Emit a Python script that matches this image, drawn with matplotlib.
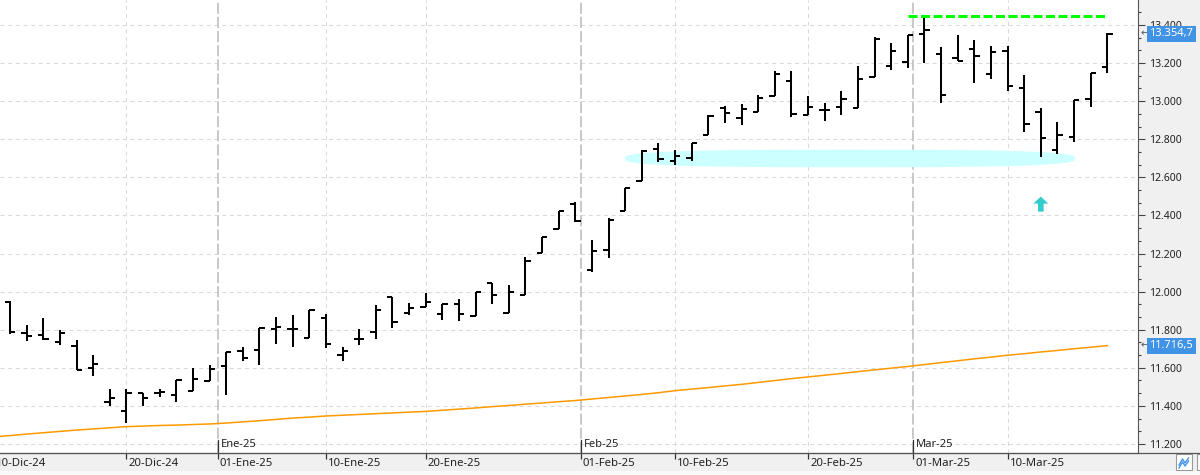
import numpy as np
import pandas as pd
import matplotlib
matplotlib.use("Agg")
import matplotlib.pyplot as plt
from matplotlib.ticker import MultipleLocator, FixedLocator, FuncFormatter
from matplotlib.patches import Rectangle, FancyArrow

plt.rcParams['font.family'] = ['Noto Sans', 'DejaVu Sans']
plt.rcParams['lines.scale_dashes'] = False

# trading sessions shown (market closed 25-Dic, 26-Dic, 01-Ene)
dates = [d for d in pd.bdate_range('2024-12-10', '2025-03-18')
         if d.strftime('%m-%d') not in ('12-25', '12-26', '01-01')]

# daily bars from 11-Dic-24 (the 10-Dic bar is cut off at the left edge)
opens = [11947, 11781, 11770, 11737, 11716, 11600, 11421, 11372, 11467, 11467,
         11455, 11479, 11532, 11611, 11690, 11696, 11802, 11802, 11758, 11863,
         11665, 11749, 11790, 11974, 11886, 11921, 11884, 11937, 11872, 12044,
         11889, 11982, 12205, 12331, 12458, 12116, 12219, 12424, 12579, 12747,
         12685, 12700, 12821, 12965, 12911, 12942, 13028, 13107, 12928, 12954,
         12970, 12965, 13128, 13186, 13207, 13352, 13247, 13229, 13272, 13140,
         13261, 13067, 12941, 12741, 12811, 13009, 13177]
highs = [11950, 11823, 11860, 11796, 11744, 11669, 11486, 11491, 11469, 11486,
         11535, 11600, 11616, 11682, 11707, 11810, 11868, 11875, 11903, 11884,
         11711, 11802, 11928, 11974, 11942, 11995, 11937, 11963, 12000, 12047,
         12035, 12184, 12289, 12422, 12472, 12270, 12389, 12542, 12745, 12779,
         12742, 12781, 12926, 12975, 12986, 13033, 13160, 13160, 13028, 12991,
         13055, 13184, 13339, 13307, 13349, 13447, 13282, 13346, 13320, 13289,
         13289, 13135, 12962, 12893, 13007, 13147, 13356]
lows = [11775, 11739, 11745, 11719, 11590, 11556, 11398, 11309, 11398, 11448,
        11419, 11477, 11530, 11456, 11638, 11613, 11726, 11708, 11758, 11705,
        11635, 11721, 11753, 11807, 11875, 11918, 11851, 11845, 11872, 11937,
        11889, 11982, 12205, 12331, 12363, 12103, 12179, 12424, 12579, 12679,
        12665, 12684, 12821, 12885, 12876, 12942, 13028, 12918, 12928, 12897,
        12926, 12965, 13128, 13165, 13176, 13200, 12991, 13210, 13096, 13114,
        13051, 12839, 12708, 12723, 12786, 12970, 13149]
closes = [11788, 11765, 11753, 11781, 11590, 11621, 11442, 11467, 11439, 11475,
          11535, 11539, 11595, 11682, 11653, 11810, 11816, 11802, 11903, 11723,
          11690, 11753, 11902, 11842, 11916, 11947, 11933, 11884, 12000, 11984,
          12000, 12159, 12289, 12422, 12373, 12212, 12375, 12542, 12738, 12694,
          12711, 12781, 12920, 12938, 12958, 13016, 13144, 12933, 12970, 12954,
          13012, 13115, 13328, 13265, 13349, 13372, 13030, 13212, 13236, 13257,
          13082, 12879, 12807, 12822, 13007, 13147, 13354.7]

# moving average (orange), from 10-Dic-24
ma200 = [11237, 11244, 11252, 11259, 11266, 11273, 11279, 11285, 11291, 11294,
         11297, 11299, 11302, 11305, 11310, 11316, 11322, 11329, 11336, 11341,
         11347, 11351, 11355, 11359, 11363, 11367, 11371, 11377, 11383, 11389,
         11396, 11402, 11409, 11415, 11422, 11428, 11436, 11444, 11452, 11460,
         11469, 11480, 11488, 11496, 11505, 11513, 11523, 11533, 11543, 11552,
         11561, 11570, 11580, 11589, 11598, 11607, 11617, 11627, 11637, 11647,
         11656, 11666, 11674, 11683, 11691, 11700, 11708, 11716.5]

date_ticks = ['2024-12-10', '2024-12-20', '2025-01-01', '2025-01-10', '2025-01-20',
              '2025-02-01', '2025-02-10', '2025-02-20', '2025-03-01', '2025-03-10']
date_labels = ['10-Dic-24', '20-Dic-24', '01-Ene-25', '10-Ene-25', '20-Ene-25',
               '01-Feb-25', '10-Feb-25', '20-Feb-25', '01-Mar-25', '10-Mar-25']
month_ticks = ['2025-01-01', '2025-02-01', '2025-03-01']
month_labels = ['Ene-25', 'Feb-25', 'Mar-25']
price_ticks = [11200, 11400, 11600, 11800, 12000, 12200, 12400, 12600, 12800,
               13000, 13200, 13400]

# support zone (cyan band) and up arrow
zone_start, zone_end, zone_level = '2025-02-06', '2025-03-14', 12699
arrow_date, arrow_base, arrow_top = '2025-03-12', 12420, 12499
resist_start = '2025-02-28'

day_num = np.array([d.toordinal() for d in dates])


def pos(s):
    return np.interp(pd.Timestamp(s).toordinal(), day_num, np.arange(len(dates)))


def es_num(v, dec=0):
    s = f"{v:,.{dec}f}"
    return s.replace(',', 'X').replace('.', ',').replace('X', '.')


fig = plt.figure(figsize=(12, 4.75), dpi=100, facecolor='#f0f0f0')
ax = fig.add_axes([0, 22 / 475, 1138 / 1200, 453 / 475])
ax.set_facecolor('white')

xb = np.arange(1, len(dates))
tick = 0.32
ax.vlines(xb, lows, highs, color='black', lw=1.45, zorder=4)
ax.hlines(opens, xb - tick, xb, color='black', lw=1.45, zorder=4)
ax.hlines(closes, xb, xb + tick, color='black', lw=1.45, zorder=4)

ax.plot(np.arange(len(dates)), ma200, color='#ff9900', lw=1.1, zorder=3)

# resistance line at the top
top = max(highs)
ax.plot([pos(resist_start), len(dates) - 1], [top, top], color='#00ff00',
        lw=2.2, dashes=(6.5, 2.5), zorder=5)

# cyan zone (flat ellipse)
x0, x1 = pos(zone_start) - 1.0, pos(zone_end) + 0.05
cx, a, b = (x0 + x1) / 2, (x1 - x0) / 2, 46
t = np.linspace(0, 2 * np.pi, 300)
ex = cx + a * np.sign(np.cos(t)) * np.abs(np.cos(t)) ** (2 / 3.0)
ey = zone_level + b * np.sign(np.sin(t)) * np.abs(np.sin(t)) ** (2 / 3.0)
ax.fill(ex, ey, color='#ccffff', lw=0, zorder=2)

ax.add_patch(FancyArrow(pos(arrow_date), arrow_base, 0, arrow_top - arrow_base,
                        width=0.34, head_width=0.9, head_length=37,
                        length_includes_head=True, color='#33cccc', lw=0, zorder=5))

# grid
for v in price_ticks:
    ax.axhline(v, color='#dadada', lw=0.75, dashes=(3, 2.5), zorder=1)
for s in date_ticks:
    if s not in month_ticks:
        ax.axvline(pos(s), color='#dadada', lw=0.75, dashes=(3, 2.5), zorder=1)
for s, lab in zip(month_ticks, month_labels):
    p = pos(s)
    ax.axvline(p, color='#c8c8c8', lw=1.4, dashes=(8, 2.2), zorder=1)
    ax.plot([p, p], [0, 13 / 453], color='#333333', lw=0.9,
            transform=ax.get_xaxis_transform(), zorder=6)
    ax.annotate(lab, (p, 0), xycoords=('data', 'axes fraction'),
                xytext=(2, 2.5), textcoords='offset points', fontsize=8,
                color='#222222', ha='left', va='bottom')

ax.set_xlim(1 - 10 / 16.626, 1 + 1128 / 16.626)
ax.set_ylim(11152.6, 13531)

# date axis
ax.set_xticks([pos(s) for s in date_ticks[1:]])
ax.tick_params(axis='x', length=4.5, width=0.9, color='#333333', labelbottom=False)
for s, lab in zip(date_ticks, date_labels):
    ax.annotate(lab, (pos(s), 0), xycoords=('data', 'axes fraction'),
                xytext=(1.5, -7.3), textcoords='offset points', fontsize=8.2,
                color='#222222', ha='left', va='center', annotation_clip=False)

# price axis
ax.yaxis.tick_right()
ax.yaxis.set_major_locator(FixedLocator(price_ticks))
ax.yaxis.set_minor_locator(MultipleLocator(200 / 3))
ax.yaxis.set_major_formatter(FuncFormatter(lambda v, p: es_num(v)))
ax.tick_params(axis='y', which='major', length=5, width=0.8, color='#444444',
               pad=3, labelsize=7.5, labelcolor='#222222')
ax.tick_params(axis='y', which='minor', length=2.4, width=0.8, color='#444444')

for side in ['top', 'left']:
    ax.spines[side].set_visible(False)
ax.spines['right'].set_color('#555555')
ax.spines['bottom'].set_color('#555555')
fig.add_artist(plt.Line2D([0, 1], [22 / 475, 22 / 475], color='#555555', lw=0.9,
                          transform=fig.transFigure))

# last value boxes
for v in [closes[-1], ma200[-1]]:
    ax.text(1141 / 1138, v, '←', transform=ax.get_yaxis_transform(), fontsize=7,
            color='#555555', ha='left', va='center', family='DejaVu Sans', zorder=7)
    ax.text(1149.5 / 1138, v, es_num(v, 1), transform=ax.get_yaxis_transform(),
            fontsize=8, color='white', ha='left', va='center', zorder=8,
            bbox=dict(boxstyle='square,pad=0.22', fc='#4193e6', ec='none'))

# bottom strip and the small buttons at the right
fig.add_artist(Rectangle((0, 0), 1, 4 / 475, transform=fig.transFigure,
                         fc='#fafafa', ec='none'))
fig.add_artist(Rectangle((1176 / 1200, 5 / 475), 16 / 1200, 16 / 475,
                         transform=fig.transFigure, fc='white', ec='#9a9a9a', lw=0.8))
fig.add_artist(Rectangle((1197 / 1200, 5 / 475), 10 / 1200, 16 / 475,
                         transform=fig.transFigure, fc='white', ec='#9a9a9a', lw=0.8))
fig.add_artist(plt.Line2D(np.array([1179, 1182.5, 1185, 1188.5]) / 1200,
                          np.array([10, 16, 12, 17]) / 475, color='#4193e6', lw=1,
                          transform=fig.transFigure))
fig.add_artist(plt.Line2D(np.array([1179, 1182.5, 1185, 1188.5]) / 1200,
                          np.array([7, 13, 9, 14]) / 475, color='#4193e6', lw=1,
                          transform=fig.transFigure))

fig.savefig('out.png', dpi=100, facecolor=fig.get_facecolor())
